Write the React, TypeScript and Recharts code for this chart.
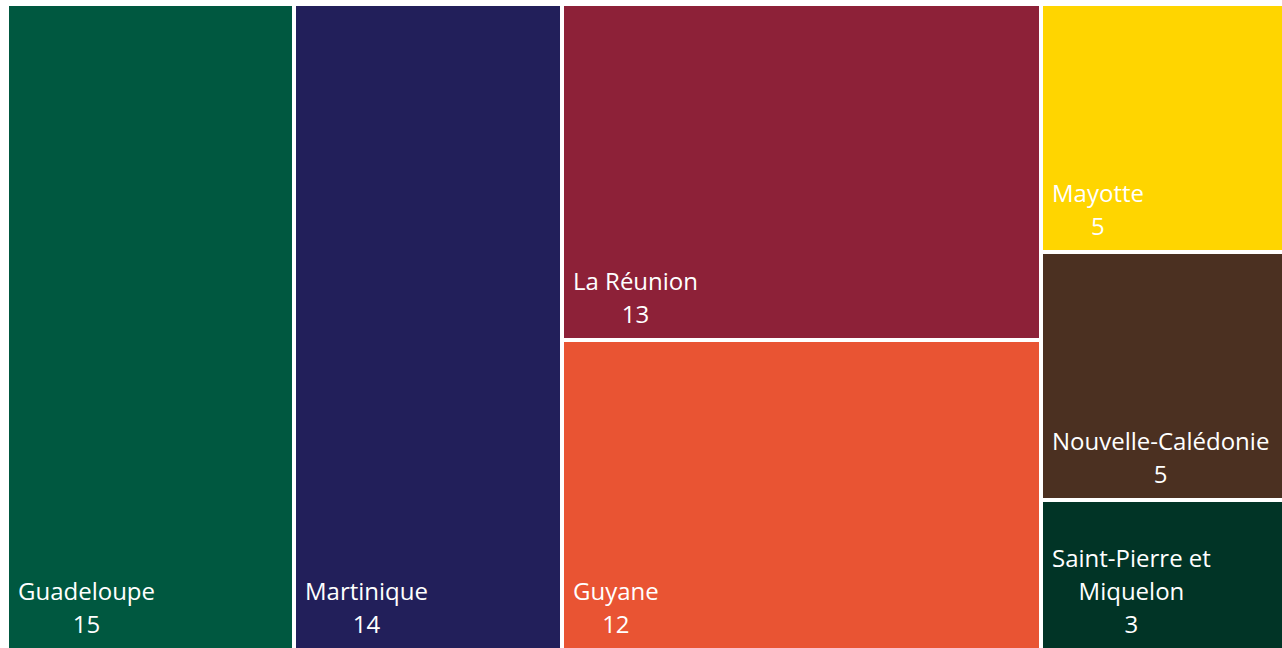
import React from 'react';
import { Treemap } from 'recharts';

const regions = [
  'Guadeloupe',
  'Martinique',
  'La Réunion',
  'Guyane',
  'Mayotte',
  'Nouvelle-Calédonie',
  'Saint-Pierre et Miquelon',
];
const counts = [15, 14, 13, 12, 5, 5, 3];
const colors = ['#005840', '#221F5A', '#8D2138', '#E95433', '#FFD500', '#4B3021', '#013426'];

const data = regions.map((name, i) => ({ name, size: counts[i] }));

const FONT = "'Open Sans', sans-serif";
const FONT_SIZE = 24;
const LINE = 33;

let ctx: CanvasRenderingContext2D | null = null;
function measure(t: string): number {
  if (!ctx) ctx = document.createElement('canvas').getContext('2d');
  if (!ctx) return t.length * 12;
  ctx.font = `${FONT_SIZE}px ${FONT}`;
  return ctx.measureText(t).width;
}

function wrap(text: string, maxW: number): string[] {
  const words = text.split(' ');
  const lines: string[] = [];
  let cur = '';
  for (const w of words) {
    const test = cur ? cur + ' ' + w : w;
    if (cur && measure(test) > maxW) {
      lines.push(cur);
      cur = w;
    } else {
      cur = test;
    }
  }
  if (cur) lines.push(cur);
  return lines;
}

const CellContent = (props: any) => {
  const { x, y, width, height, depth, name, value } = props;
  if (depth !== 1) return null;
  const idx = regions.indexOf(name);
  const fill = colors[idx >= 0 ? idx : 0];
  const pad = 2;
  const left = x + pad;
  const lines = [...wrap(String(name), width - 24), String(value)];
  const maxW = Math.max(...lines.map(measure));
  const cx = left + 9 + maxW / 2;
  const lastBase = y + height - 17;
  return (
    <g>
      <rect x={x + pad} y={y + pad} width={Math.max(0, width - 2 * pad)} height={Math.max(0, height - 2 * pad)} fill={fill} />
      {lines.map((ln, i) => (
        <text
          key={i}
          x={cx}
          y={lastBase - (lines.length - 1 - i) * LINE}
          textAnchor="middle"
          fill="#ffffff"
          fontFamily={FONT}
          fontSize={FONT_SIZE}
        >
          {ln}
        </text>
      ))}
    </g>
  );
};

export default function App() {
  return (
    <>
      <style>{'html,body{overflow:hidden;background:#fff}'}</style>
      <div style={{ position: 'absolute', left: 7, top: 4 }}>
        <Treemap
          width={1284}
          height={646}
          data={data}
          dataKey="size"
          nameKey="name"
          aspectRatio={0.8}
          stroke="none"
          isAnimationActive={false}
          content={<CellContent />}
        />
      </div>
    </>
  );
}
